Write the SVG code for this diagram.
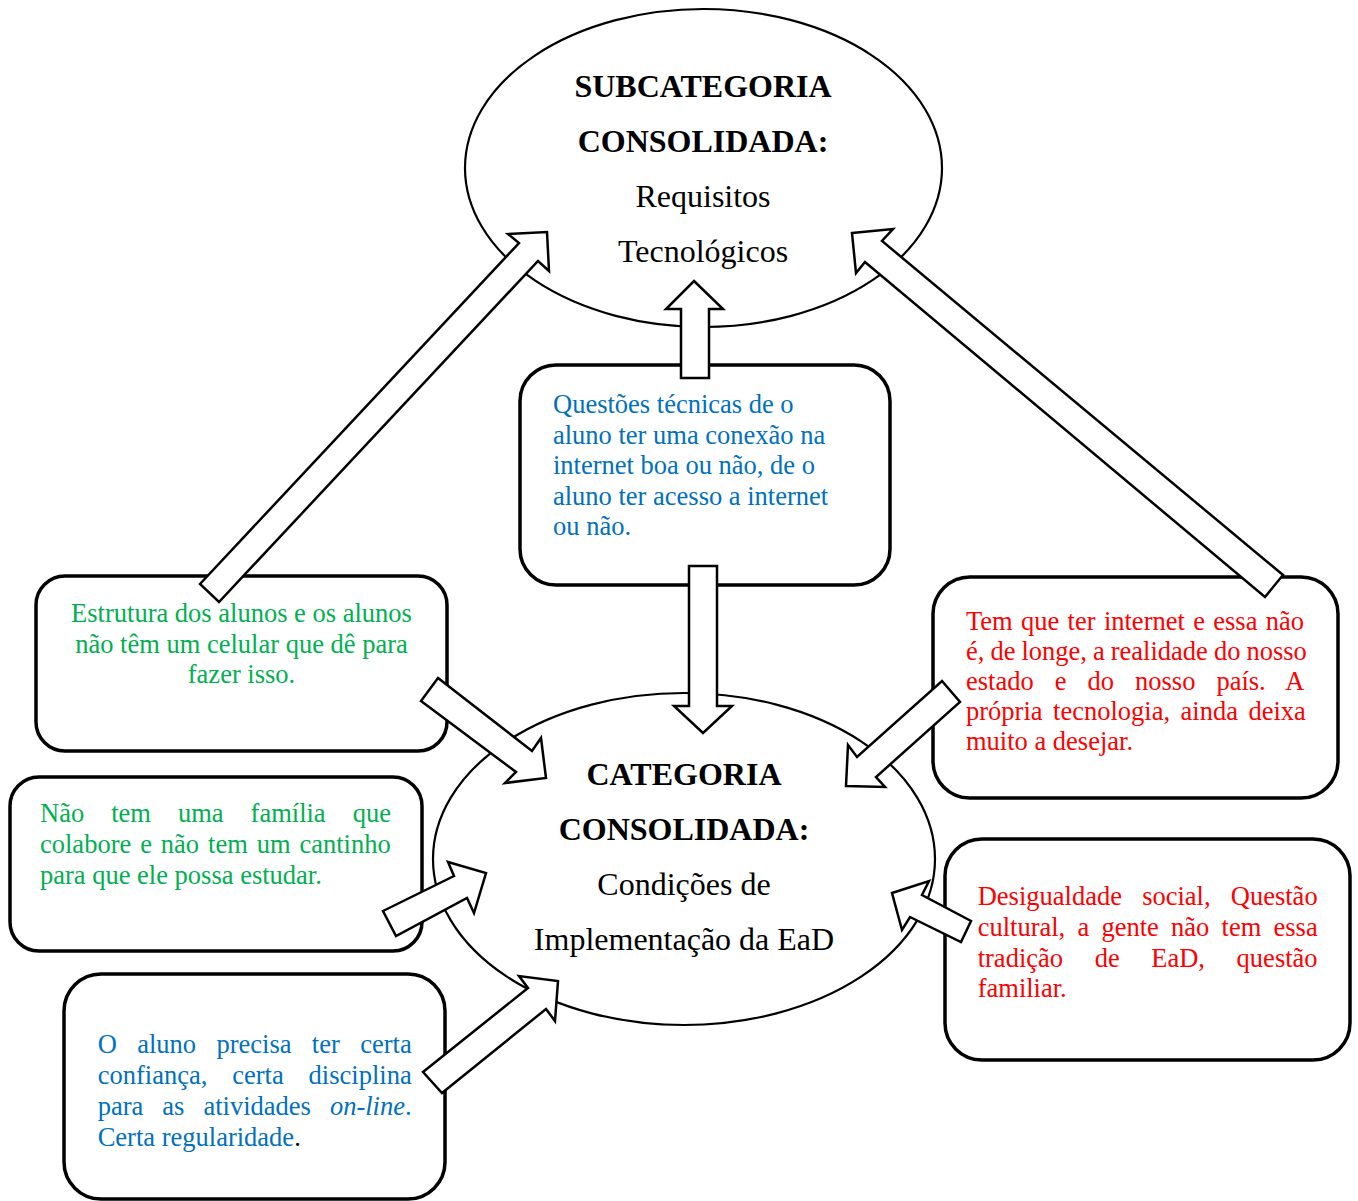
<svg xmlns="http://www.w3.org/2000/svg" width="1358" height="1201" viewBox="0 0 1358 1201">
  <style>
    .ell { fill: none; stroke: #000; stroke-width: 2.2; }
    .box { fill: #fff; stroke: #000; stroke-width: 3.5; }
    .arrow { fill: #fff; stroke: #000; stroke-width: 2.5; stroke-linejoin: miter; }
    .title { font-family: "Liberation Serif", "Times New Roman", serif; font-size: 32px; fill: #000; text-anchor: middle; }
    .bold { font-weight: bold; }
    .t { font-family: "Liberation Serif", "Times New Roman", serif; font-size: 26.5px; }
    .green { fill: #00B050; }
    .blue { fill: #0070C0; }
    .red { fill: #FF0000; }
  </style>

  <!-- Top category ellipse -->
  <g id="subcategoria">
    <ellipse class="ell" cx="703.5" cy="168" rx="238.5" ry="159"/>
    <text class="title bold" x="703" y="97">SUBCATEGORIA</text>
    <text class="title bold" x="703" y="152">CONSOLIDADA:</text>
    <text class="title" x="703" y="207">Requisitos</text>
    <text class="title" x="703" y="262">Tecnológicos</text>
  </g>

  <!-- Bottom category ellipse -->
  <g id="categoria">
    <ellipse class="ell" cx="684" cy="859" rx="251" ry="166"/>
    <text class="title bold" x="684" y="785">CATEGORIA</text>
    <text class="title bold" x="684" y="840">CONSOLIDADA:</text>
    <text class="title" x="684" y="895">Condições de</text>
    <text class="title" x="684" y="950">Implementação da EaD</text>
  </g>

  <!-- Central box: technical issues -->
  <g id="questoes-tecnicas">
    <rect class="box" x="520" y="365" width="370" height="220" rx="36" ry="36"/>
    <text class="t blue" x="553" y="413">Questões técnicas de o</text>
    <text class="t blue" x="553" y="443.5">aluno ter uma conexão na</text>
    <text class="t blue" x="553" y="474">internet boa ou não, de o</text>
    <text class="t blue" x="553" y="504.5">aluno ter acesso a internet</text>
    <text class="t blue" x="553" y="535">ou não.</text>
  </g>

  <!-- Left upper box -->
  <g id="estrutura-alunos">
    <rect class="box" x="36" y="576" width="411" height="175" rx="29" ry="29"/>
    <text class="t green" x="241.5" y="622" text-anchor="middle">Estrutura dos alunos e os alunos</text>
    <text class="t green" x="241.5" y="652.5" text-anchor="middle">não têm um celular que dê para</text>
    <text class="t green" x="241.5" y="683" text-anchor="middle">fazer isso.</text>
  </g>

  <!-- Left middle box -->
  <g id="familia">
    <rect class="box" x="10" y="777" width="412" height="174" rx="29" ry="29"/>
    <text class="t green" x="40" y="822" word-spacing="20.4">Não tem uma família que</text>
    <text class="t green" x="40" y="853" word-spacing="2.3">colabore e não tem um cantinho</text>
    <text class="t green" x="40" y="884">para que ele possa estudar.</text>
  </g>

  <!-- Left lower box -->
  <g id="disciplina">
    <rect class="box" x="64" y="974" width="381" height="225" rx="37" ry="37"/>
    <text class="t blue" x="97.7" y="1053" word-spacing="13.75">O aluno precisa ter certa</text>
    <text class="t blue" x="97.7" y="1083.5" word-spacing="18.3">confiança, certa disciplina</text>
    <text class="t blue" x="97.7" y="1114.5" word-spacing="12.4">para as atividades <tspan font-style="italic">on-line</tspan>.</text>
    <text class="t blue" x="97.7" y="1145.5">Certa regularidade<tspan fill="#000">.</tspan></text>
  </g>

  <!-- Right upper box -->
  <g id="internet-realidade">
    <rect class="box" x="933" y="577" width="405" height="221" rx="37" ry="37"/>
    <text class="t red" x="966" y="629.5" word-spacing="1.7">Tem que ter internet e essa não</text>
    <text class="t red" x="966" y="659.5" word-spacing="-0.6">é, de longe, a realidade do nosso</text>
    <text class="t red" x="966" y="689.5" word-spacing="14.4">estado e do nosso país. A</text>
    <text class="t red" x="966" y="720" word-spacing="3.9">própria tecnologia, ainda deixa</text>
    <text class="t red" x="966" y="750">muito a desejar.</text>
  </g>

  <!-- Right lower box -->
  <g id="desigualdade">
    <rect class="box" x="945" y="839" width="405" height="221" rx="37" ry="37"/>
    <text class="t red" x="977.7" y="905" word-spacing="13.6">Desigualdade social, Questão</text>
    <text class="t red" x="977.7" y="936" word-spacing="5.6">cultural, a gente não tem essa</text>
    <text class="t red" x="977.7" y="966.5" word-spacing="25">tradição de EaD, questão</text>
    <text class="t red" x="977.7" y="997">familiar.</text>
  </g>

  <!-- Block arrows -->
  <g id="connectors">
    <polygon class="arrow" points="200,584 519,243 508,234 547,232 549,271 538,261 219,602"/>
    <polygon class="arrow" points="852,233 893,229 882,241 1283,575 1265,597 865,262 856,273"/>
    <polygon class="arrow" points="694,281 723,309 709,309 709,378 681,378 681,309 666,309"/>
    <polygon class="arrow" points="689,566 717,566 717,706 732,706 703,733 674,706 689,706"/>
    <polygon class="arrow" points="438,678 532,751 541,738 546,778 505,783 516,772 421,701"/>
    <polygon class="arrow" points="942,681 960,702 876,777 885,787 846,786 848,745 857,757"/>
    <polygon class="arrow" points="383,911 454,876 448,862 486,873 474,913 467,898 396,936"/>
    <polygon class="arrow" points="423,1072 528,988 519,976 558,981 555,1021 546,1009 442,1093"/>
    <polygon class="arrow" points="892,893 929,881 922,895 971,921 961,942 910,917 902,930"/>
  </g>
</svg>
